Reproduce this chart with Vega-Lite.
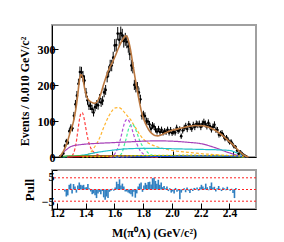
{
"$schema": "https://vega.github.io/schema/vega-lite/v6.json",
"padding": {"left": 17, "top": 24, "right": 10, "bottom": 2},
"config": {
 "font": "Liberation Serif",
 "view": {"stroke": "#a0a0a0", "strokeWidth": 2},
 "axis": {"grid": false, "labelFont": "Liberation Serif", "titleFont": "Liberation Serif", "labelFontWeight": "bold", "titleFontWeight": "bold", "labelFontSize": 11.5, "titleFontSize": 12, "labelColor": "black", "titleColor": "black", "domainColor": "black", "tickColor": "black", "tickSize": -6, "labelPadding": 3, "labelOverlap": false, "labelSeparation": 0},
 "axisY": {"labelFontSize": 12}
},
"spacing": 13,
"bounds": "flush",
"datasets": {
 "d": [
{"m":1.255,"n":2,"e":1.4,"p":-0.5},{"m":1.265,"n":4,"e":2.0,"p":-1.8},{"m":1.275,"n":10,"e":3.2,"p":-1.5},{"m":1.285,"n":31,"e":5.6,"p":1.2},{"m":1.295,"n":44,"e":6.6,"p":1.5},{"m":1.305,"n":40,"e":6.3,"p":-1.0},{"m":1.315,"n":72,"e":8.5,"p":1.4},{"m":1.325,"n":82,"e":9.1,"p":0.8},{"m":1.335,"n":80,"e":8.9,"p":-0.8},{"m":1.345,"n":115,"e":10.7,"p":1.0},
{"m":1.355,"n":147,"e":12.1,"p":1.8},{"m":1.365,"n":171,"e":13.1,"p":1.2},{"m":1.375,"n":204,"e":14.3,"p":1.0},{"m":1.385,"n":237,"e":15.4,"p":1.2},{"m":1.395,"n":236,"e":15.4,"p":0.5},{"m":1.405,"n":225,"e":15.0,"p":0.6},{"m":1.415,"n":213,"e":14.6,"p":1.4},{"m":1.425,"n":179,"e":13.4,"p":0.3},{"m":1.435,"n":158,"e":12.6,"p":-0.5},{"m":1.445,"n":143,"e":12.0,"p":-1.2},
{"m":1.455,"n":143,"e":12.0,"p":-1.0},{"m":1.465,"n":134,"e":11.6,"p":-1.5},{"m":1.475,"n":124,"e":11.1,"p":-2.2},{"m":1.485,"n":139,"e":11.8,"p":-1.0},{"m":1.495,"n":146,"e":12.1,"p":-0.6},{"m":1.505,"n":144,"e":12.0,"p":-1.2},{"m":1.515,"n":163,"e":12.8,"p":-0.4},{"m":1.525,"n":152,"e":12.3,"p":-2.0},{"m":1.535,"n":157,"e":12.5,"p":-2.6},{"m":1.545,"n":180,"e":13.4,"p":-1.8},
{"m":1.555,"n":187,"e":13.7,"p":-2.2},{"m":1.565,"n":223,"e":14.9,"p":-0.6},{"m":1.575,"n":238,"e":15.4,"p":-0.3},{"m":1.585,"n":255,"e":16.0,"p":0.2},{"m":1.595,"n":255,"e":16.0,"p":-0.3},{"m":1.605,"n":277,"e":16.6,"p":0.5},{"m":1.615,"n":311,"e":17.6,"p":2.0},{"m":1.625,"n":312,"e":17.7,"p":1.4},{"m":1.635,"n":344,"e":18.5,"p":2.6},{"m":1.645,"n":327,"e":18.1,"p":1.0},
{"m":1.655,"n":345,"e":18.6,"p":1.5},{"m":1.665,"n":339,"e":18.4,"p":0.8},{"m":1.675,"n":323,"e":18.0,"p":-0.5},{"m":1.685,"n":328,"e":18.1,"p":-0.5},{"m":1.695,"n":321,"e":17.9,"p":-0.8},{"m":1.705,"n":308,"e":17.5,"p":-1.0},{"m":1.715,"n":287,"e":16.9,"p":-1.2},{"m":1.725,"n":255,"e":16.0,"p":-1.8},{"m":1.735,"n":249,"e":15.8,"p":-0.6},{"m":1.745,"n":201,"e":14.2,"p":-2.1},
{"m":1.755,"n":194,"e":13.9,"p":-1.0},{"m":1.765,"n":195,"e":14.0,"p":0.8},{"m":1.775,"n":180,"e":13.4,"p":1.5},{"m":1.785,"n":161,"e":12.7,"p":1.8},{"m":1.795,"n":115,"e":10.7,"p":-0.6},{"m":1.805,"n":118,"e":10.9,"p":1.0},{"m":1.815,"n":114,"e":10.7,"p":1.7},{"m":1.825,"n":100,"e":10.0,"p":1.2},{"m":1.835,"n":99,"e":9.9,"p":1.9},{"m":1.845,"n":91,"e":9.5,"p":2.0},
{"m":1.855,"n":79,"e":8.9,"p":1.3},{"m":1.865,"n":88,"e":9.4,"p":2.9},{"m":1.875,"n":85,"e":9.2,"p":3.0},{"m":1.885,"n":77,"e":8.8,"p":2.2},{"m":1.895,"n":71,"e":8.4,"p":1.5},{"m":1.905,"n":78,"e":8.8,"p":2.5},{"m":1.915,"n":70,"e":8.4,"p":1.2},{"m":1.925,"n":76,"e":8.7,"p":1.8},{"m":1.935,"n":68,"e":8.2,"p":0.6},{"m":1.945,"n":72,"e":8.5,"p":0.9},
{"m":1.955,"n":70,"e":8.4,"p":0.3},{"m":1.965,"n":76,"e":8.7,"p":0.8},{"m":1.975,"n":68,"e":8.2,"p":-0.4},{"m":1.985,"n":75,"e":8.7,"p":0.3},{"m":1.995,"n":67,"e":8.2,"p":-0.8},{"m":2.005,"n":71,"e":8.4,"p":-0.5},{"m":2.015,"n":68,"e":8.2,"p":-1.0},{"m":2.025,"n":81,"e":9.0,"p":0.4},{"m":2.035,"n":73,"e":8.5,"p":-0.6},{"m":2.045,"n":77,"e":8.8,"p":-0.3},
{"m":2.055,"n":58,"e":7.6,"p":-2.5},{"m":2.065,"n":74,"e":8.6,"p":-0.8},{"m":2.075,"n":81,"e":9.0,"p":-0.2},{"m":2.085,"n":86,"e":9.3,"p":0.3},{"m":2.095,"n":78,"e":8.8,"p":-0.7},{"m":2.105,"n":91,"e":9.5,"p":0.5},{"m":2.115,"n":84,"e":9.2,"p":-0.3},{"m":2.125,"n":79,"e":8.9,"p":-0.9},{"m":2.135,"n":89,"e":9.4,"p":0.2},{"m":2.145,"n":84,"e":9.2,"p":-0.4},
{"m":2.155,"n":92,"e":9.6,"p":0.4},{"m":2.165,"n":90,"e":9.5,"p":0.2},{"m":2.175,"n":92,"e":9.6,"p":0.5},{"m":2.185,"n":84,"e":9.2,"p":-0.3},{"m":2.195,"n":92,"e":9.6,"p":0.6},{"m":2.205,"n":97,"e":9.8,"p":1.2},{"m":2.215,"n":92,"e":9.6,"p":0.8},{"m":2.225,"n":86,"e":9.3,"p":0.3},{"m":2.235,"n":95,"e":9.7,"p":1.5},{"m":2.245,"n":86,"e":9.3,"p":0.6},
{"m":2.255,"n":77,"e":8.8,"p":-0.2},{"m":2.265,"n":84,"e":9.2,"p":0.9},{"m":2.275,"n":90,"e":9.5,"p":1.8},{"m":2.285,"n":76,"e":8.7,"p":0.5},{"m":2.295,"n":75,"e":8.7,"p":0.7},{"m":2.305,"n":62,"e":7.9,"p":-0.5},{"m":2.315,"n":65,"e":8.1,"p":0.3},{"m":2.325,"n":67,"e":8.2,"p":0.9},{"m":2.335,"n":59,"e":7.7,"p":0.2},{"m":2.345,"n":51,"e":7.1,"p":-0.4},
{"m":2.355,"n":54,"e":7.3,"p":0.5},{"m":2.365,"n":48,"e":6.9,"p":0.3},{"m":2.375,"n":41,"e":6.4,"p":-0.2},{"m":2.385,"n":43,"e":6.6,"p":0.7},{"m":2.395,"n":36,"e":6.0,"p":0.1},{"m":2.405,"n":29,"e":5.4,"p":-0.3},{"m":2.415,"n":28,"e":5.3,"p":0.2},{"m":2.425,"n":18,"e":4.2,"p":-0.9},{"m":2.435,"n":9,"e":3.0,"p":-2.2},{"m":2.445,"n":15,"e":3.9,"p":0.4},
{"m":2.455,"n":11,"e":3.3,"p":0},{"m":2.465,"n":7,"e":2.6,"p":0},{"m":2.475,"n":4,"e":2.0,"p":0},{"m":2.485,"n":2,"e":1.4,"p":0}
 ],
 "fit": [
{"m":1.25,"v":0},{"m":1.26,"v":6},{"m":1.27,"v":12},{"m":1.28,"v":20},{"m":1.29,"v":29},{"m":1.30,"v":40},{"m":1.31,"v":54},{"m":1.32,"v":68},{"m":1.33,"v":81},{"m":1.34,"v":95},{"m":1.35,"v":115},{"m":1.36,"v":140},{"m":1.37,"v":172},{"m":1.38,"v":208},{"m":1.39,"v":230},{"m":1.40,"v":226},{"m":1.41,"v":205},{"m":1.42,"v":183},{"m":1.43,"v":168},{"m":1.44,"v":160},{"m":1.46,"v":153},{"m":1.48,"v":150},{"m":1.50,"v":155},{"m":1.52,"v":172},{"m":1.54,"v":200},{"m":1.56,"v":226},{"m":1.58,"v":248},{"m":1.60,"v":264},{"m":1.62,"v":283},{"m":1.64,"v":304},{"m":1.66,"v":322},{"m":1.68,"v":335},{"m":1.69,"v":338},{"m":1.70,"v":333},{"m":1.71,"v":318},{"m":1.72,"v":298},{"m":1.73,"v":272},{"m":1.74,"v":246},{"m":1.75,"v":220},{"m":1.76,"v":196},{"m":1.77,"v":172},{"m":1.78,"v":150},{"m":1.79,"v":130},{"m":1.80,"v":114},{"m":1.82,"v":92},{"m":1.84,"v":76},{"m":1.86,"v":66},{"m":1.88,"v":60},{"m":1.90,"v":59},{"m":1.92,"v":61},{"m":1.95,"v":67},{"m":2.00,"v":75},{"m":2.05,"v":80},{"m":2.10,"v":85},{"m":2.15,"v":88},{"m":2.20,"v":87},{"m":2.25,"v":81},{"m":2.30,"v":69},{"m":2.35,"v":52},{"m":2.40,"v":33},{"m":2.44,"v":16},{"m":2.47,"v":5},{"m":2.50,"v":0}
 ],
 "comp": [
{"c":"r","m":1.30,"v":0.5},{"c":"r","m":1.33,"v":3},{"c":"r","m":1.34,"v":8},{"c":"r","m":1.35,"v":20},{"c":"r","m":1.36,"v":40},{"c":"r","m":1.37,"v":70},{"c":"r","m":1.38,"v":100},{"c":"r","m":1.39,"v":120},{"c":"r","m":1.40,"v":124},{"c":"r","m":1.41,"v":112},{"c":"r","m":1.42,"v":90},{"c":"r","m":1.43,"v":66},{"c":"r","m":1.44,"v":46},{"c":"r","m":1.45,"v":32},{"c":"r","m":1.46,"v":22},{"c":"r","m":1.48,"v":12},{"c":"r","m":1.50,"v":7},{"c":"r","m":1.53,"v":3},{"c":"r","m":1.58,"v":1},{"c":"r","m":1.70,"v":0},
{"c":"o","m":1.40,"v":1},{"c":"o","m":1.42,"v":3},{"c":"o","m":1.44,"v":8},{"c":"o","m":1.46,"v":15},{"c":"o","m":1.48,"v":27},{"c":"o","m":1.50,"v":40},{"c":"o","m":1.52,"v":58},{"c":"o","m":1.54,"v":80},{"c":"o","m":1.56,"v":100},{"c":"o","m":1.58,"v":117},{"c":"o","m":1.60,"v":130},{"c":"o","m":1.62,"v":137},{"c":"o","m":1.64,"v":138},{"c":"o","m":1.66,"v":134},{"c":"o","m":1.68,"v":124},{"c":"o","m":1.70,"v":114},{"c":"o","m":1.72,"v":104},{"c":"o","m":1.74,"v":90},{"c":"o","m":1.76,"v":77},{"c":"o","m":1.78,"v":63},{"c":"o","m":1.80,"v":52},{"c":"o","m":1.82,"v":44},{"c":"o","m":1.85,"v":36},{"c":"o","m":1.90,"v":28},{"c":"o","m":1.95,"v":22},{"c":"o","m":2.00,"v":18},{"c":"o","m":2.10,"v":13},{"c":"o","m":2.20,"v":9},{"c":"o","m":2.30,"v":6},{"c":"o","m":2.40,"v":3},{"c":"o","m":2.48,"v":0},
{"c":"pd","m":1.58,"v":0},{"c":"pd","m":1.60,"v":2},{"c":"pd","m":1.62,"v":12},{"c":"pd","m":1.64,"v":30},{"c":"pd","m":1.66,"v":62},{"c":"pd","m":1.67,"v":80},{"c":"pd","m":1.68,"v":95},{"c":"pd","m":1.69,"v":103},{"c":"pd","m":1.70,"v":105},{"c":"pd","m":1.71,"v":100},{"c":"pd","m":1.72,"v":90},{"c":"pd","m":1.73,"v":77},{"c":"pd","m":1.74,"v":63},{"c":"pd","m":1.76,"v":38},{"c":"pd","m":1.78,"v":20},{"c":"pd","m":1.80,"v":10},{"c":"pd","m":1.82,"v":5},{"c":"pd","m":1.85,"v":2},{"c":"pd","m":1.90,"v":0},
{"c":"g","m":1.62,"v":0},{"c":"g","m":1.64,"v":2},{"c":"g","m":1.66,"v":10},{"c":"g","m":1.67,"v":20},{"c":"g","m":1.68,"v":36},{"c":"g","m":1.69,"v":50},{"c":"g","m":1.70,"v":68},{"c":"g","m":1.71,"v":82},{"c":"g","m":1.72,"v":89},{"c":"g","m":1.73,"v":91},{"c":"g","m":1.74,"v":88},{"c":"g","m":1.75,"v":80},{"c":"g","m":1.76,"v":70},{"c":"g","m":1.77,"v":58},{"c":"g","m":1.78,"v":46},{"c":"g","m":1.80,"v":30},{"c":"g","m":1.82,"v":19},{"c":"g","m":1.84,"v":10},{"c":"g","m":1.87,"v":4},{"c":"g","m":1.92,"v":0},
{"c":"ps","m":1.255,"v":0},{"c":"ps","m":1.27,"v":10},{"c":"ps","m":1.30,"v":22},{"c":"ps","m":1.33,"v":30},{"c":"ps","m":1.40,"v":35},{"c":"ps","m":1.50,"v":38},{"c":"ps","m":1.60,"v":40},{"c":"ps","m":1.70,"v":42},{"c":"ps","m":1.80,"v":44},{"c":"ps","m":1.90,"v":45},{"c":"ps","m":2.00,"v":44},{"c":"ps","m":2.10,"v":41},{"c":"ps","m":2.20,"v":36},{"c":"ps","m":2.25,"v":30},{"c":"ps","m":2.30,"v":23},{"c":"ps","m":2.35,"v":15},{"c":"ps","m":2.40,"v":8},{"c":"ps","m":2.45,"v":2},{"c":"ps","m":2.48,"v":0},
{"c":"cy","m":1.27,"v":0},{"c":"cy","m":1.30,"v":1},{"c":"cy","m":1.40,"v":5},{"c":"cy","m":1.50,"v":13},{"c":"cy","m":1.60,"v":19},{"c":"cy","m":1.70,"v":23},{"c":"cy","m":1.80,"v":24},{"c":"cy","m":1.90,"v":24},{"c":"cy","m":2.00,"v":23},{"c":"cy","m":2.10,"v":22},{"c":"cy","m":2.20,"v":21},{"c":"cy","m":2.30,"v":20},{"c":"cy","m":2.38,"v":18},{"c":"cy","m":2.42,"v":12},{"c":"cy","m":2.46,"v":5},{"c":"cy","m":2.49,"v":0},
{"c":"gs","m":1.26,"v":0},{"c":"gs","m":1.30,"v":3},{"c":"gs","m":1.50,"v":4},{"c":"gs","m":1.80,"v":4},{"c":"gs","m":2.20,"v":3},{"c":"gs","m":2.48,"v":0},
{"c":"rs","m":1.30,"v":0},{"c":"rs","m":1.45,"v":2},{"c":"rs","m":1.60,"v":2.5},{"c":"rs","m":1.75,"v":2},{"c":"rs","m":1.90,"v":0},
{"c":"bs","m":1.60,"v":0},{"c":"bs","m":1.90,"v":1.5},{"c":"bs","m":2.20,"v":3},{"c":"bs","m":2.45,"v":2},{"c":"bs","m":2.49,"v":0},
{"c":"ys","m":1.40,"v":0},{"c":"ys","m":1.70,"v":3},{"c":"ys","m":2.10,"v":5},{"c":"ys","m":2.40,"v":4},{"c":"ys","m":2.48,"v":0}
 ],
 "pl": [{"y": -3}, {"y": 0}, {"y": 3}]
},
"vconcat": [
 {
  "width": 204, "height": 132,
  "layer": [
   {"data": {"name": "comp"}, "mark": {"type": "line", "strokeWidth": 1.2, "interpolate": "monotone"},
    "encoding": {
     "x": {"field": "m", "type": "quantitative", "title": null, "scale": {"domain": [1.2, 2.55], "nice": false}, "axis": {"values": [1.2,1.4,1.6,1.8,2.0,2.2,2.4], "labels": false, "title": null}},
     "y": {"field": "v", "type": "quantitative", "title": "Events / 0.010 GeV/c²", "scale": {"domain": [0, 368], "nice": false}, "axis": {"values": [0,50,100,150,200,250,300,350], "title": "Events / 0.010 GeV/c²", "titlePadding": 6, "labelOverlap": false}},
     "color": {"field": "c", "type": "nominal", "legend": null, "scale": {"domain": ["r","o","pd","g","ps","cy","gs","rs","bs","ys"], "range": ["#ff4040","#ffb530","#b550d8","#40f09a","#a640b8","#20c0c8","#50b030","#e02020","#2050e0","#d8c400"]}},
     "strokeDash": {"field": "c", "type": "nominal", "legend": null, "scale": {"domain": ["r","o","pd","g","ps","cy","gs","rs","bs","ys"], "range": [[3,2],[3,2],[3,2],[3,2],[1,0],[1,0],[1,0],[1,0],[1,0],[2,2]]}}
    }},
   {"data": {"name": "d"}, "mark": {"type": "errorbar", "color": "black", "thickness": 1},
    "encoding": {"x": {"field": "m", "type": "quantitative", "title": null}, "y": {"field": "n", "type": "quantitative", "title": "Events / 0.010 GeV/c²"}, "yError": {"field": "e"}}},
   {"data": {"name": "d"}, "mark": {"type": "point", "filled": true, "color": "black", "size": 7, "opacity": 1},
    "encoding": {"x": {"field": "m", "type": "quantitative", "title": null}, "y": {"field": "n", "type": "quantitative", "title": "Events / 0.010 GeV/c²"}}},
   {"data": {"name": "fit"}, "mark": {"type": "line", "color": "#bb7840", "strokeWidth": 1.6, "interpolate": "monotone"},
    "encoding": {"x": {"field": "m", "type": "quantitative", "title": null}, "y": {"field": "v", "type": "quantitative", "title": "Events / 0.010 GeV/c²"}}}
  ]
 },
 {
  "width": 204, "height": 39,
  "layer": [
   {"data": {"name": "d"}, "mark": {"type": "bar", "color": "#2f7fc0", "size": 1.6},
    "encoding": {
     "x": {"field": "m", "type": "quantitative", "title": "M(π⁰Λ) (GeV/c²)", "scale": {"domain": [1.2, 2.55], "nice": false}, "axis": {"values": [1.2,1.4,1.6,1.8,2.0,2.2,2.4], "format": ".1f", "title": "M(π⁰Λ) (GeV/c²)", "labelPadding": 4, "titlePadding": 9, "titleFontSize": 12, "labelFlush": 1, "labelFlushOffset": 2}},
     "y": {"field": "p", "type": "quantitative", "title": "Pull", "scale": {"domain": [-5, 5], "nice": false}, "axis": {"values": [-5, 0, 5], "title": "Pull", "titlePadding": 5, "titleFontSize": 13, "tickSize": -5, "labelFlush": true, "labelFlushOffset": -1}},
     "y2": {"datum": 0}
    }},
   {"data": {"name": "pl"}, "mark": {"type": "rule", "color": "#ff2020", "strokeDash": [2, 2], "strokeWidth": 1},
    "encoding": {"y": {"field": "y", "type": "quantitative", "title": "Pull"}}}
  ]
 }
]
}
